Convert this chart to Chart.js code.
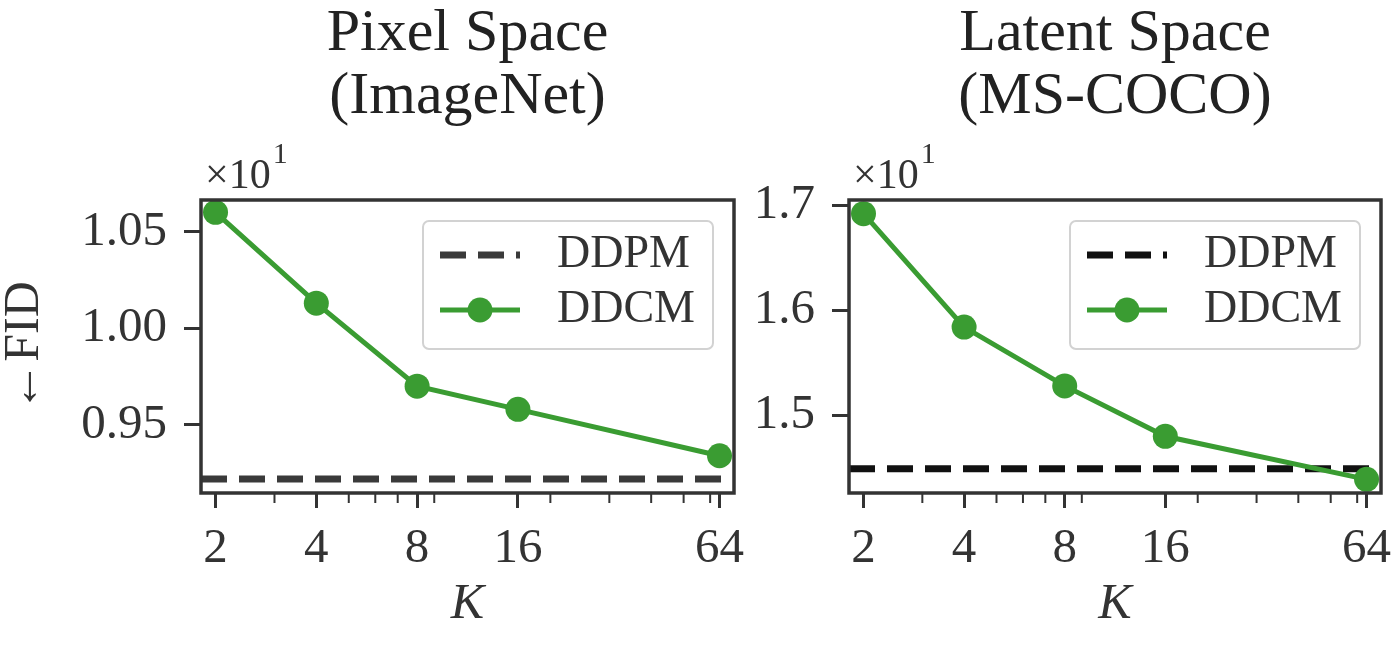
<!DOCTYPE html>
<html>
<head>
<meta charset="utf-8">
<script src="https://cdn.jsdelivr.net/npm/chart.js@4.4.1/dist/chart.umd.min.js"></script>
<style>
  html, body { margin: 0; padding: 0; background: #fff; }
  #wrap { position: relative; width: 1400px; height: 647px; overflow: hidden; }
  canvas { position: absolute; top: 0; }
</style>
</head>
<body>
<div id="wrap">
  <canvas id="pixelChart" width="770" height="647" style="left:0px"></canvas>
  <canvas id="latentChart" width="655" height="647" style="left:745px"></canvas>
</div>
<script>
// K values, shared by both panels
const kValues = [2, 4, 8, 16, 64];
const kTicks = [2, 4, 8, 16, 64];
const kMinorTicks = [3, 5, 6, 7, 9, 20, 30, 40, 50, 60];
const kRange = [1.81, 70.7];

// FID, pixel space (ImageNet)
const pixelDDCM = [10.60, 10.13, 9.70, 9.58, 9.34];
const pixelDDPM = 9.22;
const pixelTicks = [9.5, 10.0, 10.5];
const pixelRange = [9.147, 10.664];

// FID, latent space (MS-COCO)
const latentDDCM = [16.92, 15.84, 15.28, 14.80, 14.39];
const latentDDPM = 14.49;
const latentTicks = [15, 16, 17];
const latentRange = [14.26, 17.05];

const SERIF = '"Liberation Serif", "DejaVu Serif", serif';
const INK = '#333';
const GREEN = '#3a9c32';

// box round the plot + the short minor ticks on the log axis
const frameAndMinorTicks = {
  id: 'frameAndMinorTicks',
  afterDatasetsDraw(chart) {
    const {ctx, chartArea: a, scales: {x}} = chart;
    ctx.save();
    ctx.strokeStyle = INK;
    ctx.lineWidth = 2;
    kMinorTicks.forEach(v => {
      const px = x.getPixelForValue(v);
      ctx.beginPath();
      ctx.moveTo(px, a.bottom);
      ctx.lineTo(px, a.bottom + 10);
      ctx.stroke();
    });
    ctx.lineWidth = 3.5;
    ctx.strokeRect(a.left, a.top, a.right - a.left, a.bottom - a.top);
    ctx.restore();
  }
};

// the "x10^1" offset text above the y axis
const offsetText = {
  id: 'offsetText',
  afterDraw(chart) {
    const {ctx, chartArea: a} = chart;
    ctx.save();
    ctx.fillStyle = INK;
    ctx.textBaseline = 'alphabetic';
    ctx.font = '42px ' + SERIF;
    ctx.fillText('\u00d710', a.left + 4, a.top - 12);
    const w = ctx.measureText('\u00d710').width;
    ctx.font = '30px ' + SERIF;
    ctx.fillText('1', a.left + 6 + w, a.top - 37);
    ctx.restore();
  }
};

// legend box in the upper right corner, built from the datasets
const boxLegend = {
  id: 'boxLegend',
  afterDraw(chart) {
    const {ctx, chartArea: a} = chart;
    const w = 290, h = 128;
    const left = a.right - 21 - w, top = a.top + 21;
    ctx.save();
    ctx.fillStyle = 'rgba(255,255,255,0.8)';
    ctx.strokeStyle = '#d2d2d2';
    ctx.lineWidth = 2;
    ctx.beginPath();
    ctx.roundRect(left, top, w, h, 6);
    ctx.fill();
    ctx.stroke();
    chart.data.datasets.forEach((ds, i) => {
      const y = top + 34 + i * 55;
      ctx.strokeStyle = ds.borderColor;
      ctx.lineWidth = ds.borderWidth;
      ctx.setLineDash(ds.borderDash || []);
      ctx.beginPath();
      ctx.moveTo(left + 17, y);
      ctx.lineTo(left + 97, y);
      ctx.stroke();
      ctx.setLineDash([]);
      if (ds.pointRadius > 0) {
        ctx.fillStyle = ds.pointBackgroundColor;
        ctx.beginPath();
        ctx.arc(left + 57, y, ds.pointRadius, 0, Math.PI * 2);
        ctx.fill();
      }
      ctx.fillStyle = INK;
      ctx.font = '46px ' + SERIF;
      ctx.textBaseline = 'middle';
      ctx.fillText(ds.label, left + 134, y);
    });
    ctx.restore();
  }
};

function makeChart(id, o) {
  return new Chart(document.getElementById(id), {
    type: 'line',
    data: {
      datasets: [{
        label: 'DDPM',
        data: kRange.map(k => ({x: k, y: o.ddpm})),
        borderColor: o.ddpmColor,
        borderWidth: 7,
        borderDash: [26, 12],
        pointRadius: 0,
        fill: false,
        order: 1
      }, {
        label: 'DDCM',
        data: kValues.map((k, i) => ({x: k, y: o.ddcm[i]})),
        borderColor: GREEN,
        borderWidth: 5,
        pointRadius: 12.5,
        pointBackgroundColor: GREEN,
        pointBorderWidth: 0,
        fill: false,
        tension: 0,
        order: 0
      }]
    },
    options: {
      responsive: false,
      animation: false,
      devicePixelRatio: 1,
      layout: {padding: {left: 0, right: o.padRight, top: 0, bottom: 0}},
      plugins: {
        legend: {display: false},
        tooltip: {enabled: false},
        title: {
          display: true,
          text: o.title,
          fullSize: false,
          color: '#222',
          font: {family: SERIF, size: 60, weight: 'normal', lineHeight: 1.05},
          padding: {top: 2.5, bottom: 71.5}
        }
      },
      scales: {
        x: {
          type: 'logarithmic',
          min: kRange[0],
          max: kRange[1],
          afterBuildTicks: s => { s.ticks = kTicks.map(v => ({value: v})); },
          afterFit: s => { s.height = 154; s.paddingLeft = 0; s.paddingRight = 0; },
          ticks: {
            autoSkip: false,
            maxRotation: 0,
            callback: v => String(v),
            color: INK,
            font: {family: SERIF, size: 49},
            padding: 12
          },
          grid: {drawOnChartArea: false, drawTicks: true, tickLength: 15, tickWidth: 3, tickColor: INK},
          border: {display: false},
          title: {
            display: true,
            text: 'K',
            color: INK,
            font: {family: SERIF, size: 50, style: 'italic', lineHeight: 1},
            padding: {top: 0, bottom: 17}
          }
        },
        y: {
          type: 'linear',
          min: o.range[0],
          max: o.range[1],
          afterBuildTicks: s => { s.ticks = o.ticks.map(v => ({value: v})); },
          afterFit: s => { s.width = o.yWidth; s.paddingTop = 0; s.paddingBottom = 0; },
          ticks: {
            callback: v => (v / 10).toFixed(o.digits),
            color: INK,
            font: {family: SERIF, size: 49},
            padding: 17
          },
          grid: {drawOnChartArea: false, drawTicks: true, tickLength: 17, tickWidth: 3, tickColor: INK},
          border: {display: false},
          title: {
            display: o.yTitle,
            text: '\u2190FID',
            color: INK,
            font: {family: SERIF, size: 50, lineHeight: 1},
            padding: 0
          }
        }
      }
    },
    plugins: [frameAndMinorTicks, offsetText, boxLegend]
  });
}

makeChart('pixelChart', {
  title: ['Pixel Space', '(ImageNet)'],
  ddcm: pixelDDCM, ddpm: pixelDDPM, ddpmColor: '#3a3a3a',
  ticks: pixelTicks, range: pixelRange, digits: 2,
  yWidth: 201, padRight: 36, yTitle: true
});

makeChart('latentChart', {
  title: ['Latent Space', '(MS-COCO)'],
  ddcm: latentDDCM, ddpm: latentDDPM, ddpmColor: '#111',
  ticks: latentTicks, range: latentRange, digits: 1,
  yWidth: 104, padRight: 19, yTitle: false
});
</script>
</body>
</html>
